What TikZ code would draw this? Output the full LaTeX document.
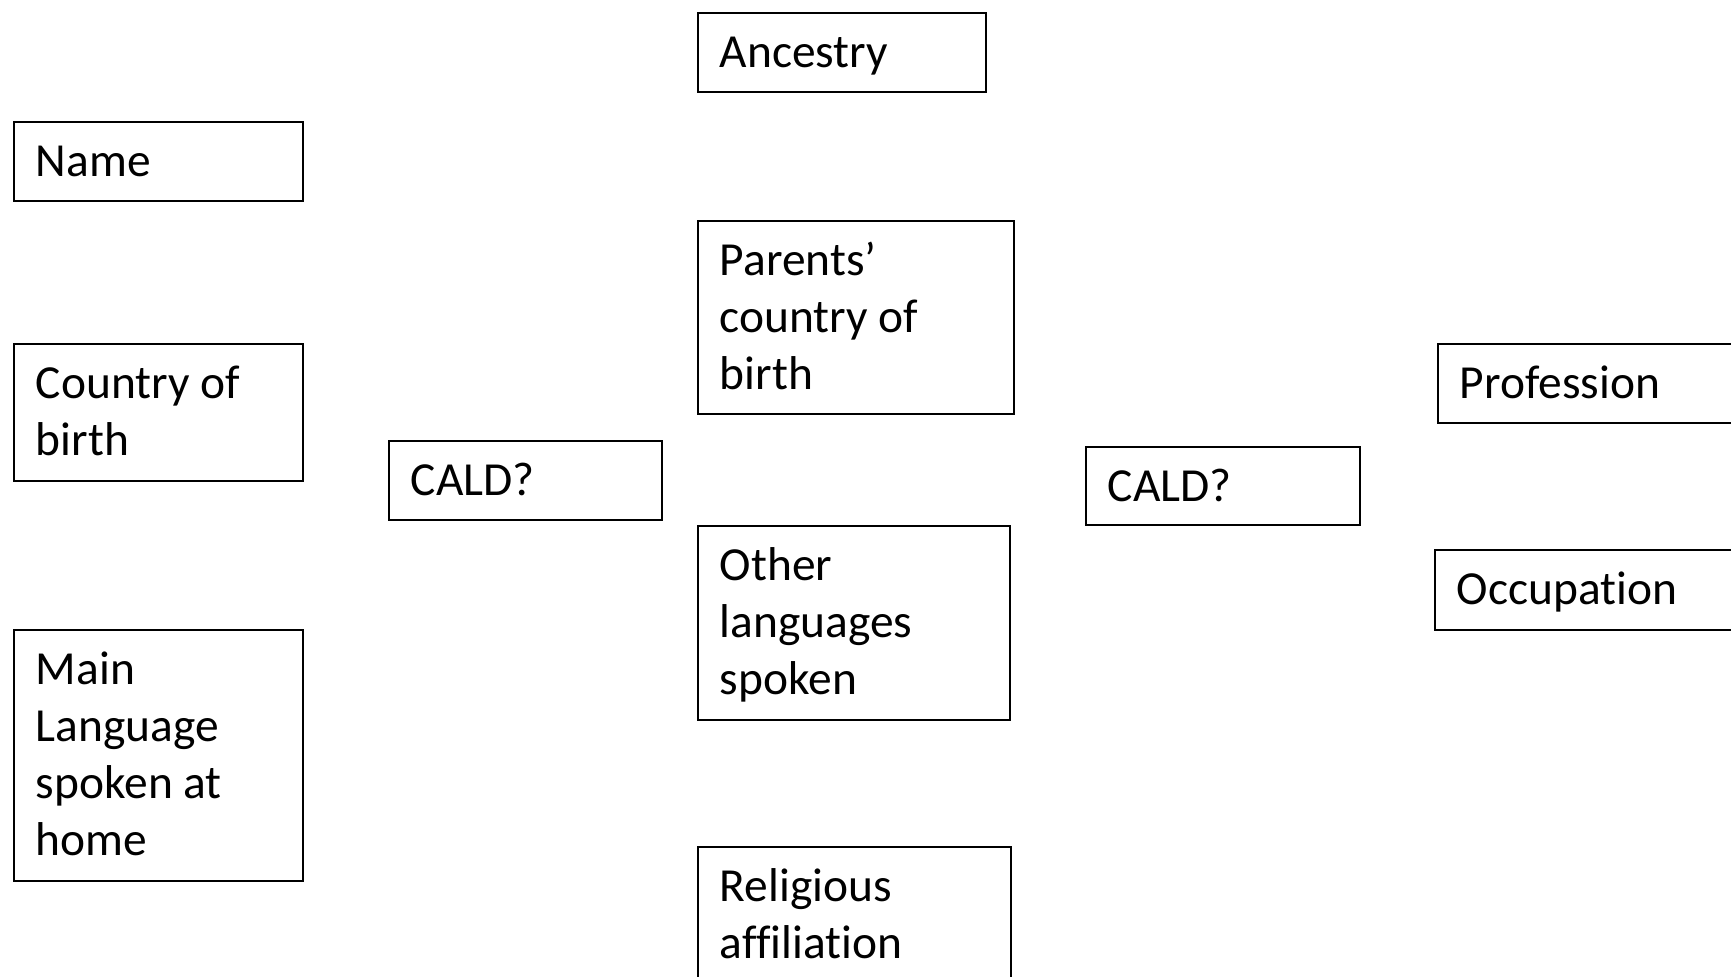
\documentclass[tikz,border=0pt]{standalone}
\usepackage{fontspec}
\setmainfont{Carlito}[Ligatures=NoCommon]
\newlength\unitpx
\setlength\unitpx{0.05cm}
\newcommand{\boxtext}[3]{\parbox[t][#2\unitpx][t]{#1\unitpx}{\raggedright\leftskip=22\unitpx
  \fontsize{67.5}{81}\selectfont\rule{0pt}{55\unitpx}#3}}

\begin{document}
\begin{tikzpicture}[x=0.05cm,y=-0.05cm]
        \tikzset{
        box/.style={draw, anchor=north west, inner sep=0pt, line width=0.085cm},
        }
        \clip (0,0) rectangle (1731,977);
        \node[box] (ancestry) at (697,12) {\boxtext{288}{79}{Ancestry}};
        \node[box] (name) at (13,121) {\boxtext{289}{79}{Name}};
        \node[box] (parents) at (697,220) {\boxtext{316}{193}{Parents'\\country of\\birth}};
        \node[box] (cob) at (13,343) {\boxtext{289}{137}{Country of\\birth}};
        \node[box] (caldl) at (388,440) {\boxtext{273}{79}{CALD?}};
        \node[box] (caldr) at (1085,446) {\boxtext{274}{78}{CALD?}};
        \node[box] (prof) at (1437,343) {\boxtext{320}{79}{Profession}};
        \node[box] (occ) at (1434,549) {\boxtext{320}{80}{Occupation}};
        \node[box] (other) at (697,525) {\boxtext{312}{194}{Other\\languages\\spoken}};
        \node[box] (main) at (13,629) {\boxtext{289}{251}{Main\\Language\\spoken at\\home}};
        \node[box] (relig) at (697,846) {\boxtext{313}{200}{Religious\\affiliation}};
\end{tikzpicture}
\end{document}
